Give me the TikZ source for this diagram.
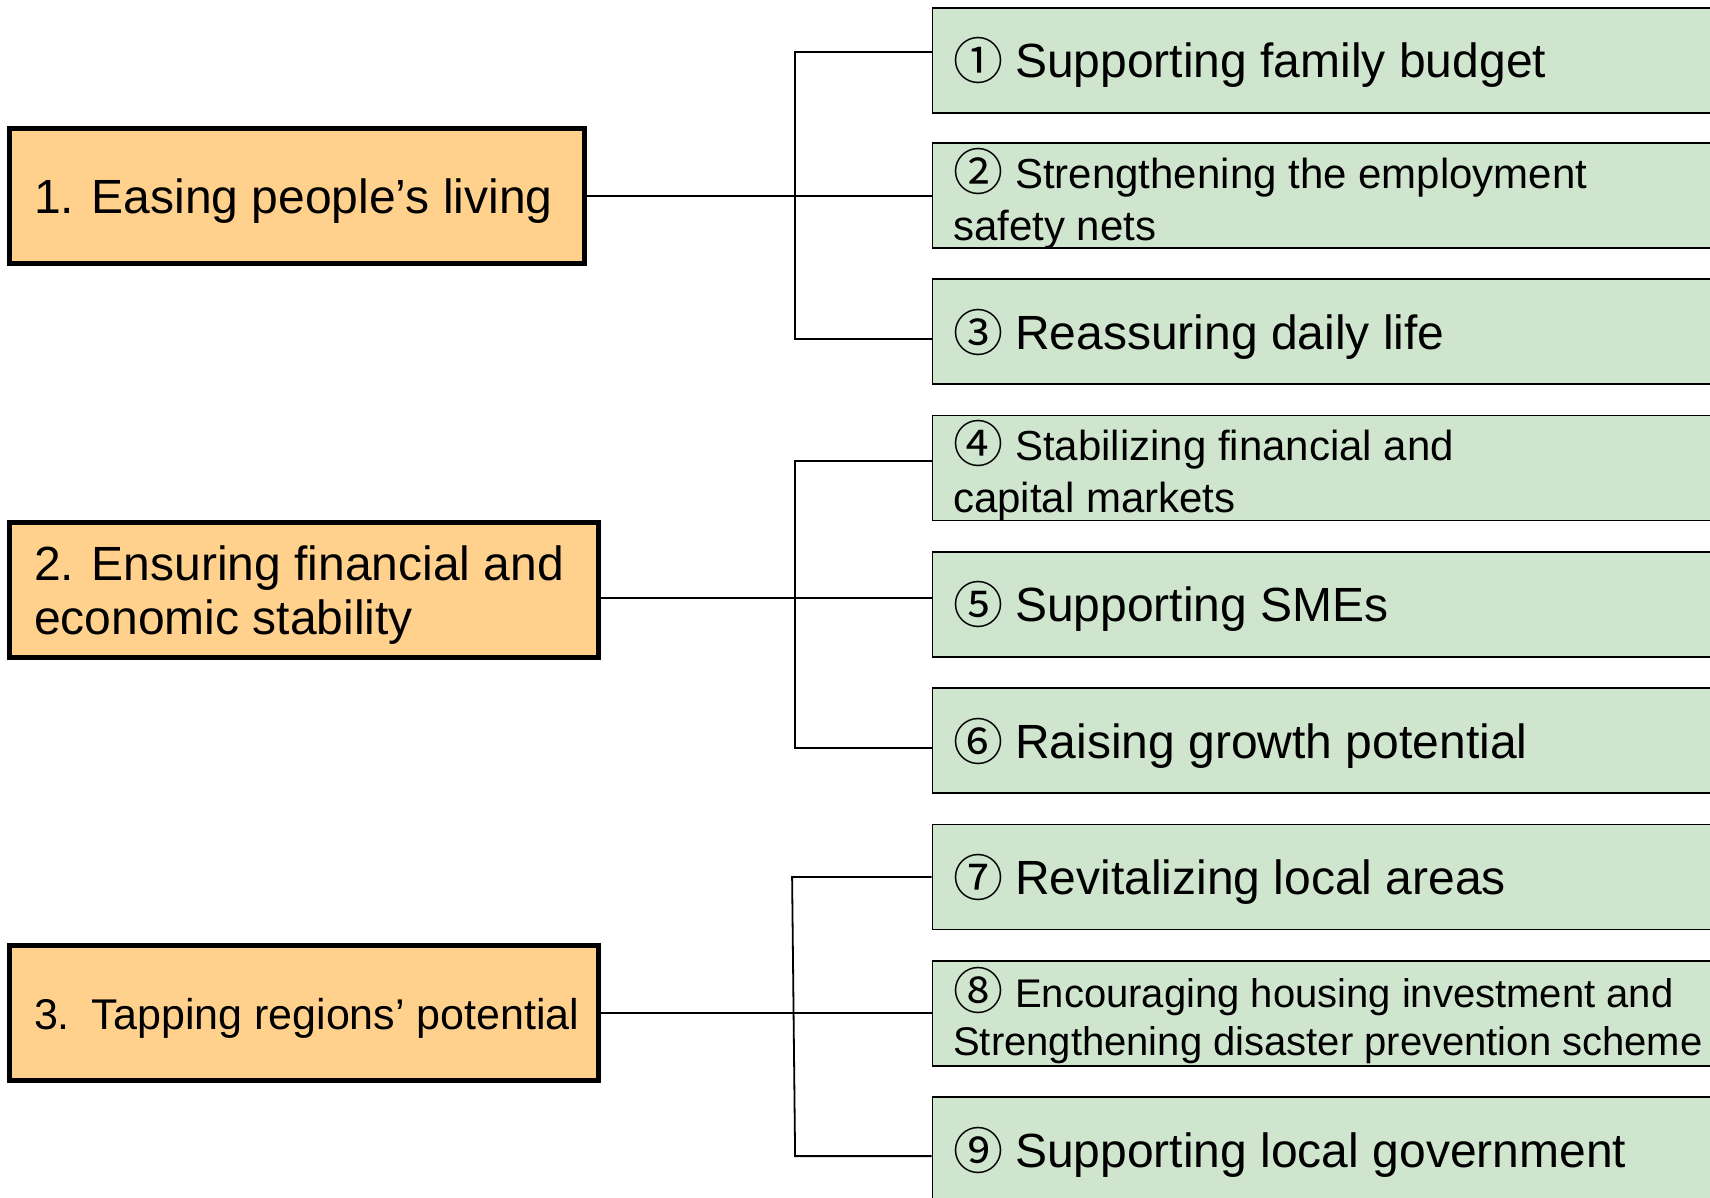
\documentclass[tikz,border=0pt]{standalone}
\usepackage{fontspec}
\setmainfont{Liberation Sans}
\newfontfamily\circfont{Noto Sans CJK JP}
\definecolor{orangefill}{RGB}{255,209,140}
\definecolor{greenfill}{RGB}{208,229,206}
\newcommand{\cnum}[1]{\makebox[62pt][l]{\raisebox{-2pt}{\circfont\fontsize{50}{50}\selectfont #1}}}
\newcommand{\lead}[1]{\makebox[57.8pt][l]{#1}}
\newcommand{\twoline}[2]{\vtop{\hbox{#1}\hbox{#2}}}
\begin{document}
\begin{tikzpicture}[x=1pt,y=-1pt,
  topic/.style={rectangle, draw=black, line width=5pt, fill=orangefill, inner sep=0pt, anchor=center},
  measure/.style={rectangle, draw=black, line width=1.8pt, fill=greenfill, inner sep=0pt, anchor=center,
    minimum width=797.5pt, minimum height=105pt},
  big/.style={inner sep=0pt, anchor=base west, font=\fontsize{48}{54}\selectfont},
  mid/.style={inner sep=0pt, anchor=base west, font=\fontsize{42}{51.5}\selectfont},
  small/.style={inner sep=0pt, anchor=base west, font=\fontsize{40}{48}\selectfont},
  link/.style={line width=1.8pt, draw=black}]
\useasboundingbox (0,0) rectangle (1710,1197);
\clip (0,0) rectangle (1710,1197);
\fill[white] (0,0) rectangle (1710,1197);

% topic boxes
\node[topic, minimum width=574.8pt, minimum height=135.3pt] (o1) at (297.2,196.3) {};
\node[topic, minimum width=588.9pt, minimum height=135.2pt] (o2) at (304.25,590) {};
\node[topic, minimum width=588.9pt, minimum height=135.3pt] (o3) at (304.25,1013.15) {};

% measure boxes
\node[measure] (g1) at (1331.25,60.1) {};
\node[measure] (g2) at (1331.25,195.4) {};
\node[measure] (g3) at (1331.25,331.7) {};
\node[measure] (g4) at (1331.25,468) {};
\node[measure] (g5) at (1331.25,604.3) {};
\node[measure] (g6) at (1331.25,740.7) {};
\node[measure] (g7) at (1331.25,877) {};
\node[measure] (g8) at (1331.25,1013.3) {};
\node[measure] (g9) at (1331.25,1149.6) {};

% topic texts
\node[big] (to1) at (33.8,213.8) {\lead{1.}Easing people’s living};
\node[big] (to2) at (33.8,580.5) {\twoline{\lead{2.}Ensuring financial and}{economic stability}};
\node[inner sep=0pt, anchor=base west, font=\fontsize{43}{50}\selectfont] (to3) at (33.8,1029.2) {\lead{3.}Tapping regions’ potential};

% measure texts
\node[big] (tg1) at (953,77.6) {\cnum{①}Supporting family budget};
\node[mid] (tg2) at (953,188.7) {\twoline{\cnum{②}Strengthening the employment}{safety nets}};
\node[big] (tg3) at (953,349.2) {\cnum{③}Reassuring daily life};
\node[mid] (tg4) at (953,460.5) {\twoline{\cnum{④}Stabilizing financial and}{capital markets}};
\node[big] (tg5) at (953,621.8) {\cnum{⑤}Supporting SMEs};
\node[big] (tg6) at (953,758.2) {\cnum{⑥}Raising growth potential};
\node[big] (tg7) at (953,894.5) {\cnum{⑦}Revitalizing local areas};
\node[small] (tg8) at (953,1007.7) {\twoline{\cnum{⑧}Encouraging housing investment and}{Strengthening disaster prevention scheme}};
\node[big] (tg9) at (953,1167.1) {\cnum{⑨}Supporting local government};

% connectors group 1
\draw[link] (o1.east) -- (o1.east -| g2.west);
\draw[link] ([yshift=8pt]g1.west) -- ++(-136.5,0) |- ([yshift=-7.5pt]g3.west);
% group 2
\draw[link] ([yshift=-7.6pt]o2.east) -- ([yshift=-7.6pt]o2.east -| g5.west);
\draw[link] ([yshift=6.7pt]g4.west) -- ++(-136.5,0) |- ([yshift=-7.3pt]g6.west);
% group 3
\draw[link] (o3.east) -- (o3.east -| g8.west);
\draw[link] (g7.west) -- ++(-139.5,0) -- ([xshift=-136.5pt,yshift=-6.5pt]g9.west) -- ([yshift=-6.5pt]g9.west);
\end{tikzpicture}
\end{document}
